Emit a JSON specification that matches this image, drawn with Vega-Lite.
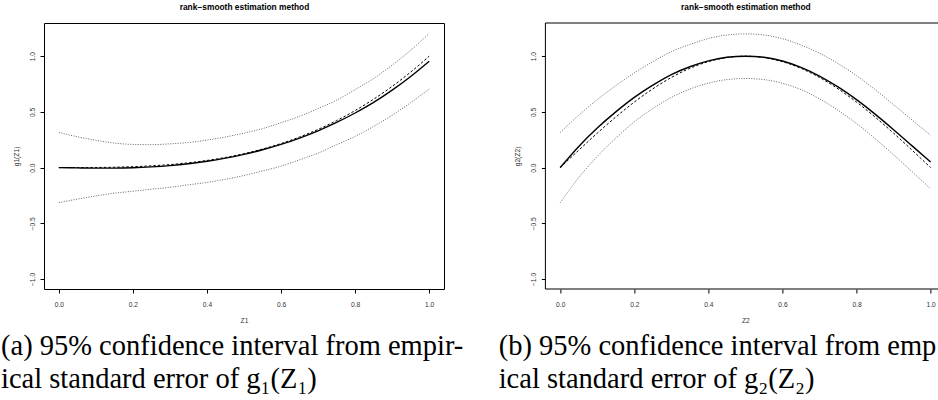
{
  "$schema": "https://vega.github.io/schema/vega-lite/v6.json",
  "padding": {"left": 0, "top": 1, "right": 0, "bottom": 0},
  "autosize": {"type": "pad"},
  "background": "white",
  "bounds": "flush",
  "spacing": 101.4,
  "config": {
    "font": "Liberation Sans",
    "view": {"stroke": "black", "strokeWidth": 1},
    "axis": {"domain": false, "grid": false, "tickColor": "black", "tickSize": 4, "tickWidth": 1, "labelFont": "Liberation Sans", "labelFontSize": 6.7, "labelColor": "#333", "titleFont": "Liberation Sans", "titleFontSize": 6.7, "titleFontWeight": "normal", "titleColor": "#333"},
    "axisX": {"labelPadding": 8, "titlePadding": 10},
    "axisY": {"labelPadding": 5, "labelAngle": -90, "titlePadding": 10},
    "title": {"font": "Liberation Serif", "fontSize": 28.5, "fontWeight": "normal", "color": "black", "lineHeight": 33, "orient": "bottom", "anchor": "start", "frame": "group", "offset": 8},
    "line": {"interpolate": "monotone"}
  },
  "datasets": {
    "g1": [
      {"z": 0, "est": 0, "truth": 0, "lo": -0.315, "hi": 0.315},
      {"z": 0.05, "est": -0.003, "truth": 0.0001, "lo": -0.283, "hi": 0.277},
      {"z": 0.1, "est": -0.005, "truth": 0.001, "lo": -0.255, "hi": 0.245},
      {"z": 0.15, "est": -0.005, "truth": 0.0034, "lo": -0.23, "hi": 0.22},
      {"z": 0.2, "est": -0.002, "truth": 0.008, "lo": -0.212, "hi": 0.208},
      {"z": 0.25, "est": 0.006, "truth": 0.0156, "lo": -0.194, "hi": 0.206},
      {"z": 0.3, "est": 0.018, "truth": 0.027, "lo": -0.177, "hi": 0.213},
      {"z": 0.35, "est": 0.035, "truth": 0.0429, "lo": -0.155, "hi": 0.225},
      {"z": 0.4, "est": 0.057, "truth": 0.064, "lo": -0.133, "hi": 0.247},
      {"z": 0.45, "est": 0.085, "truth": 0.0911, "lo": -0.105, "hi": 0.275},
      {"z": 0.5, "est": 0.119, "truth": 0.125, "lo": -0.071, "hi": 0.309},
      {"z": 0.55, "est": 0.16, "truth": 0.1664, "lo": -0.03, "hi": 0.35},
      {"z": 0.6, "est": 0.208, "truth": 0.216, "lo": 0.013, "hi": 0.403},
      {"z": 0.65, "est": 0.265, "truth": 0.2746, "lo": 0.07, "hi": 0.46},
      {"z": 0.7, "est": 0.33, "truth": 0.343, "lo": 0.13, "hi": 0.53},
      {"z": 0.75, "est": 0.405, "truth": 0.4219, "lo": 0.205, "hi": 0.605},
      {"z": 0.8, "est": 0.49, "truth": 0.512, "lo": 0.28, "hi": 0.7},
      {"z": 0.85, "est": 0.585, "truth": 0.6141, "lo": 0.37, "hi": 0.8},
      {"z": 0.9, "est": 0.695, "truth": 0.729, "lo": 0.47, "hi": 0.92},
      {"z": 0.95, "est": 0.818, "truth": 0.8574, "lo": 0.583, "hi": 1.053},
      {"z": 1, "est": 0.955, "truth": 1, "lo": 0.705, "hi": 1.205}
    ],
    "g2": [
      {"z": 0, "est": 0, "truth": 0, "lo": -0.315, "hi": 0.315},
      {"z": 0.05, "est": 0.19, "truth": 0.156, "lo": -0.09, "hi": 0.47},
      {"z": 0.1, "est": 0.355, "truth": 0.309, "lo": 0.1, "hi": 0.61},
      {"z": 0.15, "est": 0.5, "truth": 0.454, "lo": 0.265, "hi": 0.735},
      {"z": 0.2, "est": 0.63, "truth": 0.588, "lo": 0.41, "hi": 0.85},
      {"z": 0.25, "est": 0.74, "truth": 0.707, "lo": 0.53, "hi": 0.95},
      {"z": 0.3, "est": 0.835, "truth": 0.809, "lo": 0.63, "hi": 1.04},
      {"z": 0.35, "est": 0.905, "truth": 0.891, "lo": 0.705, "hi": 1.105},
      {"z": 0.4, "est": 0.958, "truth": 0.951, "lo": 0.758, "hi": 1.158},
      {"z": 0.45, "est": 0.99, "truth": 0.988, "lo": 0.79, "hi": 1.19},
      {"z": 0.5, "est": 1.0, "truth": 1.0, "lo": 0.8, "hi": 1.2},
      {"z": 0.55, "est": 0.99, "truth": 0.988, "lo": 0.79, "hi": 1.19},
      {"z": 0.6, "est": 0.957, "truth": 0.951, "lo": 0.757, "hi": 1.157},
      {"z": 0.65, "est": 0.9, "truth": 0.891, "lo": 0.7, "hi": 1.1},
      {"z": 0.7, "est": 0.822, "truth": 0.809, "lo": 0.617, "hi": 1.027},
      {"z": 0.75, "est": 0.724, "truth": 0.707, "lo": 0.514, "hi": 0.934},
      {"z": 0.8, "est": 0.61, "truth": 0.588, "lo": 0.395, "hi": 0.825},
      {"z": 0.85, "est": 0.48, "truth": 0.454, "lo": 0.26, "hi": 0.7},
      {"z": 0.9, "est": 0.34, "truth": 0.309, "lo": 0.115, "hi": 0.565},
      {"z": 0.95, "est": 0.195, "truth": 0.156, "lo": -0.037, "hi": 0.427},
      {"z": 1, "est": 0.05, "truth": 0, "lo": -0.19, "hi": 0.29}
    ]
  },
  "hconcat": [
    {
      "width": 400,
      "height": 266,
      "title": {"text": ["(a) 95% confidence interval from empir-", "ical standard error of g₁(Z₁)"], "dx": -43},
      "data": {"name": "g1"},
      "layer": [
        {
          "transform": [{"fold": ["lo", "hi"], "as": ["series", "g"]}],
          "mark": {"type": "line", "strokeDash": [1, 1.5], "strokeWidth": 1, "color": "#666"},
          "encoding": {
            "x": {"field": "z", "type": "quantitative", "scale": {"domain": [-0.04, 1.04], "nice": false, "zero": false}, "axis": {"values": [0, 0.2, 0.4, 0.6, 0.8, 1], "format": ".1f", "title": "Z1"}},
            "y": {"field": "g", "type": "quantitative", "scale": {"domain": [-1.09, 1.298], "nice": false, "zero": false}, "axis": {"values": [-1, -0.5, 0, 0.5, 1], "format": ".1f", "title": "g1(Z1)"}},
            "detail": {"field": "series"}
          }
        },
        {
          "mark": {"type": "line", "strokeDash": [2.5, 2], "strokeWidth": 1, "color": "black"},
          "encoding": {
            "x": {"field": "z", "type": "quantitative", "scale": {"domain": [-0.04, 1.04], "nice": false, "zero": false}, "axis": null},
            "y": {"field": "truth", "type": "quantitative", "scale": {"domain": [-1.09, 1.298], "nice": false, "zero": false}, "axis": {"values": [-1, -0.5, 0, 0.5, 1], "format": ".1f", "title": "g1(Z1)"}}
          }
        },
        {
          "mark": {"type": "line", "strokeWidth": 1.4, "color": "black"},
          "encoding": {
            "x": {"field": "z", "type": "quantitative", "scale": {"domain": [-0.04, 1.04], "nice": false, "zero": false}, "axis": {"orient": "top", "labels": false, "ticks": false, "tickSize": 0, "domain": false, "title": "rank−smooth estimation method", "titleFontWeight": "bold", "titleFontSize": 8.4, "titleColor": "black", "titlePadding": 12}},
            "y": {"field": "est", "type": "quantitative", "scale": {"domain": [-1.09, 1.298], "nice": false, "zero": false}, "axis": {"values": [-1, -0.5, 0, 0.5, 1], "format": ".1f", "title": "g1(Z1)"}}
          }
        }
      ],
      "resolve": {"axis": {"x": "independent"}}
    },
    {
      "width": 393,
      "height": 266,
      "view": {"stroke": null},
      "title": {"text": ["(b) 95% confidence interval from emp", "ical standard error of g₂(Z₂)"], "dx": -46.7},
      "data": {"name": "g2"},
      "layer": [
        {
          "data": {"values": [{}]},
          "mark": {"type": "rule", "color": "black", "strokeWidth": 1},
          "encoding": {"x": {"datum": -0.04, "type": "quantitative", "scale": {"domain": [-0.04, 1.021], "nice": false, "zero": false}, "axis": null}}
        },
        {
          "data": {"values": [{}]},
          "mark": {"type": "rule", "color": "black", "strokeWidth": 1},
          "encoding": {"y": {"datum": 1.298, "type": "quantitative", "scale": {"domain": [-1.09, 1.298], "nice": false, "zero": false}, "axis": {"values": [-1, -0.5, 0, 0.5, 1], "format": ".1f", "title": "g2(Z2)"}}}
        },
        {
          "data": {"values": [{}]},
          "mark": {"type": "rule", "color": "black", "strokeWidth": 1},
          "encoding": {"y": {"datum": -1.09, "type": "quantitative", "scale": {"domain": [-1.09, 1.298], "nice": false, "zero": false}, "axis": {"values": [-1, -0.5, 0, 0.5, 1], "format": ".1f", "title": "g2(Z2)"}}}
        },
        {
          "transform": [{"fold": ["lo", "hi"], "as": ["series", "g"]}],
          "mark": {"type": "line", "strokeDash": [1, 1.5], "strokeWidth": 1, "color": "#666"},
          "encoding": {
            "x": {"field": "z", "type": "quantitative", "scale": {"domain": [-0.04, 1.021], "nice": false, "zero": false}, "axis": {"values": [0, 0.2, 0.4, 0.6, 0.8, 1], "format": ".1f", "title": "Z2", "titleX": 200}},
            "y": {"field": "g", "type": "quantitative", "scale": {"domain": [-1.09, 1.298], "nice": false, "zero": false}, "axis": {"values": [-1, -0.5, 0, 0.5, 1], "format": ".1f", "title": "g2(Z2)"}},
            "detail": {"field": "series"}
          }
        },
        {
          "mark": {"type": "line", "strokeDash": [2.5, 2], "strokeWidth": 1, "color": "black"},
          "encoding": {
            "x": {"field": "z", "type": "quantitative", "scale": {"domain": [-0.04, 1.021], "nice": false, "zero": false}, "axis": null},
            "y": {"field": "truth", "type": "quantitative", "scale": {"domain": [-1.09, 1.298], "nice": false, "zero": false}, "axis": {"values": [-1, -0.5, 0, 0.5, 1], "format": ".1f", "title": "g2(Z2)"}}
          }
        },
        {
          "mark": {"type": "line", "strokeWidth": 1.4, "color": "black"},
          "encoding": {
            "x": {"field": "z", "type": "quantitative", "scale": {"domain": [-0.04, 1.021], "nice": false, "zero": false}, "axis": {"orient": "top", "labels": false, "ticks": false, "tickSize": 0, "domain": false, "title": "rank−smooth estimation method", "titleFontWeight": "bold", "titleFontSize": 8.4, "titleColor": "black", "titlePadding": 12, "titleX": 200}},
            "y": {"field": "est", "type": "quantitative", "scale": {"domain": [-1.09, 1.298], "nice": false, "zero": false}, "axis": {"values": [-1, -0.5, 0, 0.5, 1], "format": ".1f", "title": "g2(Z2)"}}
          }
        }
      ],
      "resolve": {"axis": {"x": "independent"}}
    }
  ]
}
